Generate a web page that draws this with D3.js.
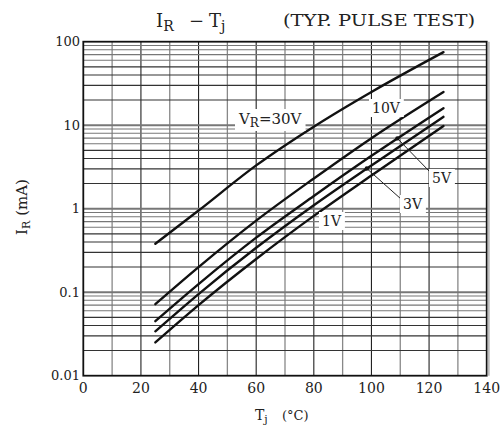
<!DOCTYPE html>
<html><head><meta charset="utf-8">
<script src="https://cdn.jsdelivr.net/npm/d3@7/dist/d3.min.js"></script>
<style>body{margin:0;background:#fff}svg{display:block}text{font-family:"DejaVu Serif","Liberation Serif",serif;fill:#222}</style>
</head><body><svg id="c" width="502" height="434"></svg>
<script>
const temps = [25, 40, 60, 80, 100, 125];
const seriesNames = ["30V", "10V", "5V", "3V", "1V"];
const ir30 = [0.38, 0.95, 3.3, 9.6, 25, 75];
const ir10 = [0.072, 0.2, 0.72, 2.3, 7.0, 25];
const ir5  = [0.045, 0.125, 0.45, 1.42, 4.3, 16];
const ir3  = [0.034, 0.095, 0.34, 1.1, 3.3, 12.6];
const ir1  = [0.025, 0.07, 0.25, 0.82, 2.5, 9.8];
const xTicks = [0, 20, 40, 60, 80, 100, 120, 140];
const yTicks = [0.01, 0.1, 1, 10, 100];
const yTickLabels = ["0.01", "0.1", "1", "10", "100"];

const svg = d3.select("#c");
const x = d3.scaleLinear().domain([0, 140]).range([83.3, 486.7]);
const y = d3.scaleLog().domain([0.01, 100]).range([375.7, 41.7]);

// grid
const g = svg.append("g");
for (let t = 10; t < 140; t += 10) {
  g.append("line").attr("x1", x(t)).attr("x2", x(t)).attr("y1", y(100)).attr("y2", y(0.01))
   .attr("stroke", t % 20 === 0 ? "#222" : "#888").attr("stroke-width", t % 20 === 0 ? 1.1 : 1.3);
}
for (let e = -2; e < 2; e++) {
  for (let k = 1; k <= 9; k++) {
    const v = k * Math.pow(10, e);
    if (v <= 0.01) continue;
    g.append("line").attr("x1", x(0)).attr("x2", x(140)).attr("y1", y(v)).attr("y2", y(v))
     .attr("stroke", (k === 1 || k >= 6) ? "#777" : "#333").attr("stroke-width", k === 1 ? 2 : 1.1);
  }
}
// frame
svg.append("rect").attr("x", x(0)).attr("y", y(100)).attr("width", x(140) - x(0)).attr("height", y(0.01) - y(100))
  .attr("fill", "none").attr("stroke", "#111").attr("stroke-width", 1.8);
svg.append("line").attr("x1", x(140) + 2).attr("x2", x(140) + 2).attr("y1", y(100)).attr("y2", y(0.01))
  .attr("stroke", "#bbb").attr("stroke-width", 2);

// tick labels
svg.selectAll(".yt").data(yTicks).enter().append("text")
  .attr("x", 80).attr("y", d => y(d) + 4.5).attr("text-anchor", "end").attr("font-size", 13)
  .text((d, i) => yTickLabels[i]);
svg.selectAll(".xt").data(xTicks).enter().append("text")
  .attr("x", d => x(d)).attr("y", 393).attr("text-anchor", "middle").attr("font-size", 14)
  .text(d => d);

// curves
const allSeries = [ir30, ir10, ir5, ir3, ir1];
const line = d3.line().x(d => x(d[0])).y(d => y(d[1])).curve(d3.curveMonotoneX);
const paths = {};
allSeries.forEach((s, i) => {
  const pts = temps.map((t, j) => [t, s[j]]);
  paths[seriesNames[i]] = svg.append("path").attr("d", line(pts)).attr("fill", "none")
    .attr("stroke", "#111").attr("stroke-width", 2.4).attr("stroke-linecap", "round");
});
function pointAtX(path, px) {
  const node = path.node(); const L = node.getTotalLength();
  let lo = 0, hi = L;
  for (let i = 0; i < 40; i++) { const m = (lo + hi) / 2; if (node.getPointAtLength(m).x < px) lo = m; else hi = m; }
  return node.getPointAtLength(lo);
}

// labels with white background
function label(tx, ty, parts, fs) {
  const gg = svg.append("g");
  const t = gg.append("text").attr("x", tx).attr("y", ty).attr("font-size", fs || 14);
  parts.forEach(p => { const ts = t.append("tspan").text(p[0]); if (p[1]) ts.attr("font-size", 12).attr("dy", 3); else if (p[2]) ts.attr("dy", -3); });
  const bb = t.node().getBBox();
  gg.insert("rect", "text").attr("x", bb.x - 3).attr("y", bb.y - 1).attr("width", bb.width + 6).attr("height", bb.height + 2).attr("fill", "#fff");
}
label(239, 124, [["V"], ["R", true], ["=30V", false, true]], 15);
label(372, 113, [["10V"]]);

// leaders
[["5V", 109, 430, 172, 432, 183], ["3V", 98.4, 401, 199, 403, 209]].forEach(d => {
  const p = pointAtX(paths[d[0]], x(d[1]));
  svg.append("line").attr("x1", p.x).attr("y1", p.y).attr("x2", d[2]).attr("y2", d[3]).attr("stroke", "#222").attr("stroke-width", 1);
  svg.append("circle").attr("cx", p.x).attr("cy", p.y).attr("r", 2.2).attr("fill", "#111");
  label(d[4], d[5], [[d[0]]]);
});
label(322, 226, [["1V"]]);

// titles
const t1 = svg.append("text").attr("y", 27).attr("font-size", 18);
t1.append("tspan").attr("x", 156).text("I");
t1.append("tspan").text("R").attr("font-size", 14).attr("dy", 4);
t1.append("tspan").attr("x", 189).attr("dy", -4).text("−");
t1.append("tspan").attr("x", 209).text("T");
t1.append("tspan").text("j").attr("font-size", 14).attr("dy", 4);
svg.append("text").attr("x", 283).attr("y", 26).attr("font-size", 16.5)
  .attr("textLength", 192).attr("lengthAdjust", "spacingAndGlyphs").text("(TYP. PULSE TEST)");

const yl = svg.append("text").attr("transform", "translate(27,207) rotate(-90)").attr("text-anchor", "middle").attr("font-size", 15);
yl.append("tspan").text("I");
yl.append("tspan").text("R").attr("font-size", 11).attr("dy", 3);
yl.append("tspan").text(" (mA)").attr("dy", -3);

const xl = svg.append("text").attr("y", 420).attr("font-size", 14);
xl.append("tspan").attr("x", 255).text("T");
xl.append("tspan").text("j").attr("font-size", 11).attr("dy", 3);
svg.append("text").attr("x", 282).attr("y", 420).attr("font-size", 13).text("(°C)");
</script></body></html>
